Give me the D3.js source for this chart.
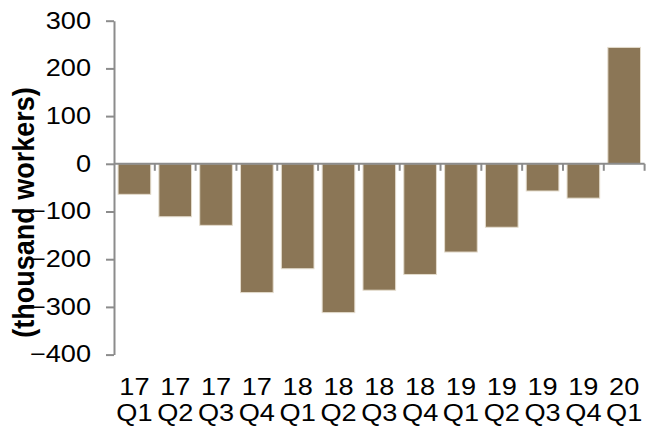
<!DOCTYPE html>
<html>
<head>
<meta charset="utf-8">
<script src="https://cdn.jsdelivr.net/npm/d3@7/dist/d3.min.js"></script>
<style>
  body { margin: 0; background: #fff; }
  svg { display: block; }
</style>
</head>
<body>
<div id="chart"></div>
<script>
// quarterly change, thousand workers
var years    = ['17', '17', '17', '17', '18', '18', '18', '18', '19', '19', '19', '19', '20'];
var quarters = ['Q1', 'Q2', 'Q3', 'Q4', 'Q1', 'Q2', 'Q3', 'Q4', 'Q1', 'Q2', 'Q3', 'Q4', 'Q1'];
var values   = [-64, -111, -129, -270, -220, -312, -265, -232, -185, -133, -57, -72, 244];
var yTicks   = [300, 200, 100, 0, -100, -200, -300, -400];

var width = 649, height = 428;
var font = '"Liberation Sans", Arial, sans-serif';
var axisColor = '#8c8c8c';
var stretch = 1.18;   // the original text is a bit wider than Arial

var svg = d3.select('#chart').append('svg')
    .attr('width', width)
    .attr('height', height);

var cats = years.map(function(y, i){ return i; });

var x = d3.scaleBand()
    .domain(cats)
    .range([114, 644.6])
    .paddingInner(0.2)
    .paddingOuter(0.1);

var y = d3.scaleLinear()
    .domain([-400, 300])
    .range([354.6, 20.7]);

// bars
svg.append('g').selectAll('rect')
    .data(values)
    .enter().append('rect')
    .attr('x', function(d, i){ return x(i); })
    .attr('width', x.bandwidth())
    .attr('y', function(d){ return y(Math.max(0, d)); })
    .attr('height', function(d){ return Math.abs(y(d) - y(0)); })
    .attr('fill', '#8b7656')
    .attr('stroke', '#e4dccd')
    .attr('stroke-width', 1);

// y axis
var yAxis = svg.append('g')
    .attr('transform', 'translate(114,0)')
    .call(d3.axisLeft(y).tickValues(yTicks).tickSize(8).tickSizeOuter(0).tickPadding(14));
yAxis.select('.domain').attr('stroke', axisColor).attr('stroke-width', 2);
yAxis.selectAll('.tick line').attr('stroke', axisColor).attr('stroke-width', 2);
yAxis.selectAll('.tick text')
    .attr('x', 0)
    .attr('transform', 'translate(-23,0) scale(' + stretch + ',1)')
    .attr('fill', '#000')
    .style('font-family', font)
    .style('font-size', '23px');

// zero line + category boundary ticks
var x0 = x.range()[0], x1 = x.range()[1], step = x.step();
svg.append('line')
    .attr('x1', x0).attr('x2', x1)
    .attr('y1', y(0)).attr('y2', y(0))
    .attr('stroke', axisColor)
    .attr('stroke-width', 2);

svg.append('g').selectAll('line')
    .data(d3.range(1, cats.length + 1))
    .enter().append('line')
    .attr('x1', function(i){ return x0 + i * step; })
    .attr('x2', function(i){ return x0 + i * step; })
    .attr('y1', y(0))
    .attr('y2', y(0) + 7)
    .attr('stroke', axisColor)
    .attr('stroke-width', 2);

// category labels, two lines
var labels = svg.append('g').selectAll('text')
    .data(cats)
    .enter().append('text')
    .attr('transform', function(i){
        return 'translate(' + (x(i) + x.bandwidth() / 2) + ',0) scale(' + stretch + ',1)';
    })
    .attr('text-anchor', 'middle')
    .style('font-family', font)
    .style('font-size', '23px')
    .attr('fill', '#000');

labels.append('tspan')
    .attr('x', 0)
    .attr('y', 395)
    .text(function(i){ return years[i]; });

labels.append('tspan')
    .attr('x', 0)
    .attr('y', 421.5)
    .text(function(i){ return quarters[i]; });

// y axis title
svg.append('text')
    .attr('transform', 'translate(33.5,212.5) rotate(-90) scale(1,1.1)')
    .attr('text-anchor', 'middle')
    .style('font-family', font)
    .style('font-size', '27px')
    .style('font-weight', 'bold')
    .attr('fill', '#000')
    .text('(thousand workers)');
</script>
</body>
</html>
